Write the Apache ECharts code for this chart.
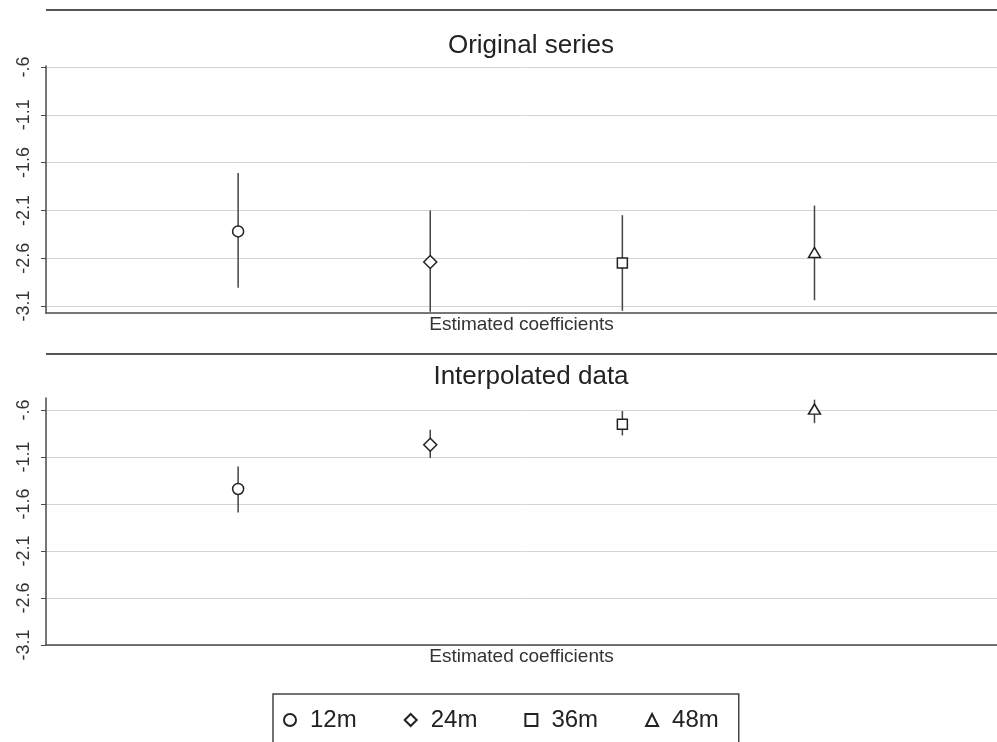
<!DOCTYPE html>
<html>
<head>
<meta charset="utf-8">
<script src="https://cdn.jsdelivr.net/npm/echarts@6/dist/echarts.min.js"></script>
<style>
html,body{margin:0;padding:0;background:#fff;}
#chart{width:997px;height:742px;}
</style>
</head>
<body>
<div id="chart"></div>
<script>
// ---- data ----
var horizons = ['12m', '24m', '36m', '48m'];
var horizonPos = [1, 2, 3, 4];

var origEst = [-2.32, -2.64, -2.65, -2.54];
var origLo  = [-2.91, -3.16, -3.15, -3.04];
var origHi  = [-1.71, -2.10, -2.15, -2.05];

var interpEst = [-1.44, -0.97, -0.75, -0.59];
var interpLo  = [-1.69, -1.11, -0.87, -0.74];
var interpHi  = [-1.20, -0.81, -0.61, -0.49];

var yTicks = [-3.1, -2.6, -2.1, -1.6, -1.1, -0.6];
var yTickLabels = ['-3.1', '-2.6', '-2.1', '-1.6', '-1.1', '-.6'];

var panelTitles = ['Original series', 'Interpolated data'];
var xTitle = 'Estimated coefficients';

// ---- styles ----
var FONT = 'Liberation Sans, Arial, sans-serif';
var symbols = ['circle', 'diamond', 'rect', 'triangle'];
var symbolSizes = [11, [13, 13], 10, [12, 10]];
var axisColor = '#4a4a4a';

function fmtTick(v) {
  for (var k = 0; k < yTicks.length; k++) {
    if (Math.abs(v - yTicks[k]) < 1e-6) return yTickLabels[k];
  }
  return '';
}

function yAxis(idx, min, max) {
  return {
    type: 'value', gridIndex: idx, min: min, max: max,
    axisLine: {show: true, lineStyle: {color: axisColor, width: 1.5}},
    axisTick: {show: true, length: 5, customValues: yTicks, lineStyle: {color: axisColor, width: 1}},
    axisLabel: {customValues: yTicks, formatter: fmtTick, rotate: 90, margin: 13,
      fontSize: 18, color: '#333', fontFamily: FONT},
    splitLine: {show: true, lineStyle: {color: '#d4d4d4', width: 1}}
  };
}
function xAxis(idx) {
  return {
    type: 'value', gridIndex: idx, min: 0, max: 4.95,
    name: xTitle, nameLocation: 'middle', nameGap: 2,
    nameTextStyle: {fontSize: 19, color: '#333', fontFamily: FONT, verticalAlign: 'top'},
    axisLine: {show: true, onZero: false, lineStyle: {color: axisColor, width: 1.5}},
    axisTick: {show: false}, axisLabel: {show: false}, splitLine: {show: false}
  };
}

function errSeries(idx, lo, hi) {
  var d = horizonPos.map(function (x, i) { return [x, lo[i], hi[i]]; });
  return {
    type: 'custom', xAxisIndex: idx, yAxisIndex: idx, z: 1, silent: true,
    encode: {x: 0, y: [1, 2]},
    data: d,
    renderItem: function (params, api) {
      var p1 = api.coord([api.value(0), api.value(1)]);
      var p2 = api.coord([api.value(0), api.value(2)]);
      return {type: 'line', shape: {x1: p1[0], y1: p1[1], x2: p2[0], y2: p2[1]},
        style: {stroke: '#444', lineWidth: 1.5}};
    }
  };
}

var series = [];
[[origEst, origLo, origHi], [interpEst, interpLo, interpHi]].forEach(function (set, idx) {
  series.push(errSeries(idx, set[1], set[2]));
  horizons.forEach(function (h, i) {
    series.push({
      type: 'scatter', name: h, xAxisIndex: idx, yAxisIndex: idx, z: 3,
      symbol: symbols[i], symbolSize: symbolSizes[i],
      itemStyle: {color: '#fff', borderColor: '#222', borderWidth: 1.5, opacity: 1},
      data: [[horizonPos[i], set[0][i]]]
    });
  });
});

var chart = echarts.init(document.getElementById('chart'), null, {renderer: 'canvas'});
chart.setOption({
  animation: false,
  backgroundColor: '#fff',
  title: [
    {text: panelTitles[0], left: 526, top: 28, textAlign: 'center',
     textStyle: {fontSize: 26, fontWeight: 'normal', color: '#222', fontFamily: FONT}},
    {text: panelTitles[1], left: 526, top: 359, textAlign: 'center',
     textStyle: {fontSize: 26, fontWeight: 'normal', color: '#222', fontFamily: FONT}}
  ],
  grid: [
    {left: 46, top: 66, right: 0, height: 247, containLabel: false},
    {left: 46, top: 398, right: 0, height: 247, containLabel: false}
  ],
  xAxis: [xAxis(0), xAxis(1)],
  yAxis: [yAxis(0, -3.173, -0.59), yAxis(1, -3.1, -0.472)],
  legend: {
    data: horizons.map(function (h, i) { return {name: h, icon: symbols[i]}; }),
    left: 273, top: 694, orient: 'horizontal',
    itemWidth: 12, itemHeight: 12, itemGap: 47,
    padding: [14, 20, 24, 10],
    borderColor: '#444', borderWidth: 1.5, backgroundColor: '#fff',
    textStyle: {fontSize: 24, color: '#222', fontFamily: FONT, padding: [0, 0, 0, 9]},
    selectedMode: false
  },
  graphic: [
    {type: 'line', shape: {x1: 46, y1: 10, x2: 997, y2: 10}, style: {stroke: '#555', lineWidth: 2}},
    {type: 'line', shape: {x1: 46, y1: 354, x2: 997, y2: 354}, style: {stroke: '#555', lineWidth: 2}}
  ],
  series: series
});
</script>
</body>
</html>
